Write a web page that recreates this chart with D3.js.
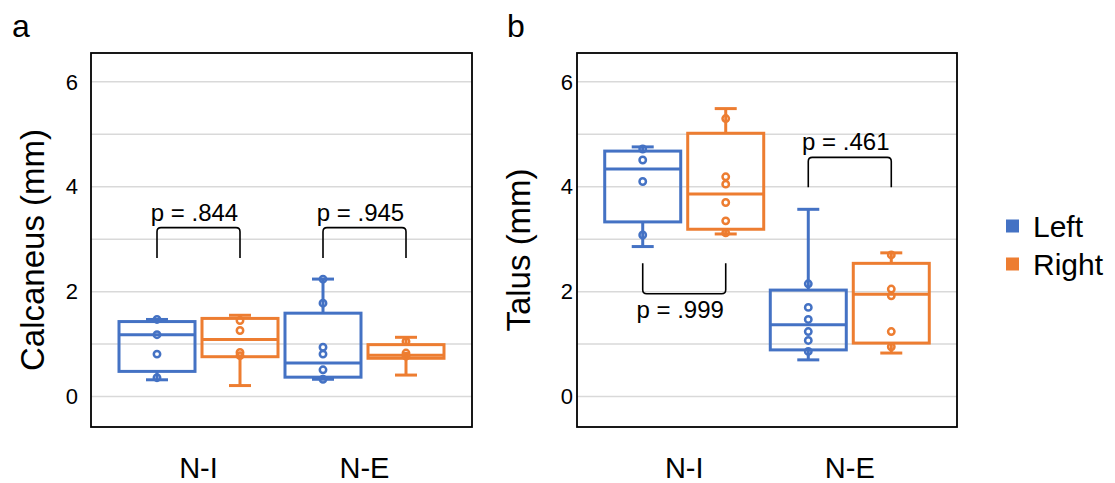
<!DOCTYPE html>
<html>
<head>
<meta charset="utf-8">
<script src="https://cdn.jsdelivr.net/npm/d3@7"></script>
<style>
  body { margin: 0; background: #fff; }
  text { font-family: Arial, "Liberation Sans", sans-serif; fill: #000; }
</style>
</head>
<body>
<div id="chart"></div>
<script>
// categories and series
const categories = ["N-I", "N-E"];
const series = ["Left", "Right"];
const colors = ["#4472C4", "#ED7D31"];
const yTicks = [0, 2, 4, 6];

// box stats per category: [min, q1, median, q3, max]
const calcaneusLeft = [[0.32, 0.48, 1.18, 1.43, 1.47], [0.33, 0.37, 0.64, 1.59, 2.24]];
const calcaneusRight = [[0.21, 0.76, 1.09, 1.49, 1.55], [0.41, 0.73, 0.79, 0.99, 1.13]];
const talusLeft = [[2.86, 3.33, 4.34, 4.68, 4.76], [0.70, 0.89, 1.37, 2.03, 3.57]];
const talusRight = [[3.10, 3.19, 3.86, 5.02, 5.49], [0.83, 1.02, 1.95, 2.54, 2.74]];

// individual points
const calcaneusLeftPts = [[1.47, 1.18, 0.81, 0.36], [2.24, 1.78, 0.94, 0.81, 0.51, 0.33]];
const calcaneusRightPts = [[1.45, 1.26, 0.84, 0.78], [1.05, 0.83, 0.77]];
const talusLeftPts = [[4.72, 4.51, 4.10, 3.08], [2.15, 1.70, 1.47, 1.24, 1.07, 0.86]];
const talusRightPts = [[5.30, 4.19, 4.05, 3.70, 3.35, 3.12], [2.70, 2.05, 1.92, 1.24, 0.95]];

// p-value brackets: label, bar level, leg end level (data units)
const calcaneusP = [[".844", 3.22, 2.64], [".945", 3.22, 2.64]];
const talusP = [[".999", 1.96, 2.54], [".461", 4.56, 3.99]];

const W = 1115, H = 483;
const svg = d3.select("#chart").append("svg")
  .attr("width", W).attr("height", H);

const y = d3.scaleLinear().domain([-0.58, 6.55]).range([427, 53]);

function panel(opts) {
  const x = d3.scalePoint().domain(categories)
    .range([opts.x0, opts.x1]).padding(0.6476);
  const off = 41.5, bw = 76, cap = 22;
  const g = svg.append("g");

  // gridlines
  g.selectAll(".grid").data(d3.range(0, 7)).join("line")
    .attr("x1", opts.x0).attr("x2", opts.x1)
    .attr("y1", d => y(d)).attr("y2", d => y(d))
    .attr("stroke", "#d9d9d9").attr("stroke-width", 1.5);

  // y tick labels
  g.selectAll(".tick").data(yTicks).join("text")
    .attr("x", opts.tickX).attr("y", d => y(d))
    .attr("dy", "0.35em").attr("text-anchor", "end")
    .style("font-size", "22px").text(d => d);

  // boxes
  [opts.left, opts.right].forEach((stats, s) => {
    const col = colors[s];
    const pts = s === 0 ? opts.leftPts : opts.rightPts;
    categories.forEach((c, i) => {
      const cx = x(c) + (s === 0 ? -off : off);
      const [mn, q1, md, q3, mx] = stats[i];
      const bg = g.append("g").attr("stroke", col).attr("stroke-width", 3).attr("fill", "none");
      bg.append("line").attr("x1", cx).attr("x2", cx).attr("y1", y(q3)).attr("y2", y(mx));
      bg.append("line").attr("x1", cx).attr("x2", cx).attr("y1", y(q1)).attr("y2", y(mn));
      bg.append("line").attr("x1", cx - cap / 2).attr("x2", cx + cap / 2).attr("y1", y(mx)).attr("y2", y(mx));
      bg.append("line").attr("x1", cx - cap / 2).attr("x2", cx + cap / 2).attr("y1", y(mn)).attr("y2", y(mn));
      bg.append("rect").attr("x", cx - bw / 2).attr("width", bw)
        .attr("y", y(q3)).attr("height", y(q1) - y(q3));
      bg.append("line").attr("x1", cx - bw / 2).attr("x2", cx + bw / 2).attr("y1", y(md)).attr("y2", y(md));
      bg.selectAll("circle").data(pts[i]).join("circle")
        .attr("cx", cx).attr("cy", d => y(d)).attr("r", 3.2)
        .attr("stroke-width", 2.5);
    });
  });

  // frame
  g.append("rect").attr("x", opts.x0).attr("y", y.range()[1])
    .attr("width", opts.x1 - opts.x0).attr("height", y.range()[0] - y.range()[1])
    .attr("fill", "none").attr("stroke", "#000").attr("stroke-width", 1.8);

  // brackets
  opts.pvals.forEach((p, i) => {
    const xa = x(categories[i]) - off, xb = x(categories[i]) + off;
    const bar = y(p[1]), leg = y(p[2]);
    const r = bar < leg ? 4 : -4;
    g.append("path")
      .attr("d", `M${xa},${leg} L${xa},${bar + r} Q${xa},${bar} ${xa + 4},${bar} L${xb - 4},${bar} Q${xb},${bar} ${xb},${bar + r} L${xb},${leg}`)
      .attr("fill", "none").attr("stroke", "#000").attr("stroke-width", 1.6);
    g.append("text")
      .attr("x", (xa + xb) / 2 - 4)
      .attr("y", bar < leg ? bar - 7 : bar + 24)
      .attr("text-anchor", "middle").style("font-size", "24px")
      .text("p = " + p[0]);
  });

  // category labels
  g.selectAll(".cat").data(categories).join("text")
    .attr("x", d => x(d)).attr("y", 478)
    .attr("text-anchor", "middle").style("font-size", "29px")
    .text(d => d);

  // y title
  g.append("text")
    .attr("transform", `translate(${opts.titleX},250) rotate(-90)`)
    .attr("text-anchor", "middle").style("font-size", "33px")
    .text(opts.title);

  // panel letter
  g.append("text").attr("x", opts.letterX).attr("y", 37)
    .style("font-size", "32px").text(opts.letter);
}

panel({ x0: 91, x1: 472, tickX: 78, titleX: 44, letterX: 12, letter: "a",
  title: "Calcaneus (mm)", left: calcaneusLeft, right: calcaneusRight,
  leftPts: calcaneusLeftPts, rightPts: calcaneusRightPts, pvals: calcaneusP });
panel({ x0: 577, x1: 957, tickX: 573, titleX: 530, letterX: 507, letter: "b",
  title: "Talus (mm)", left: talusLeft, right: talusRight,
  leftPts: talusLeftPts, rightPts: talusRightPts, pvals: talusP });

// legend
const legend = svg.append("g");
series.forEach((s, i) => {
  const cy = 226 + i * 38;
  legend.append("rect").attr("x", 1006).attr("y", cy - 6.5)
    .attr("width", 13).attr("height", 13).attr("fill", colors[i]);
  legend.append("text").attr("x", 1033).attr("y", cy)
    .attr("dy", "0.35em").style("font-size", "30px").text(s);
});
</script>
</body>
</html>
